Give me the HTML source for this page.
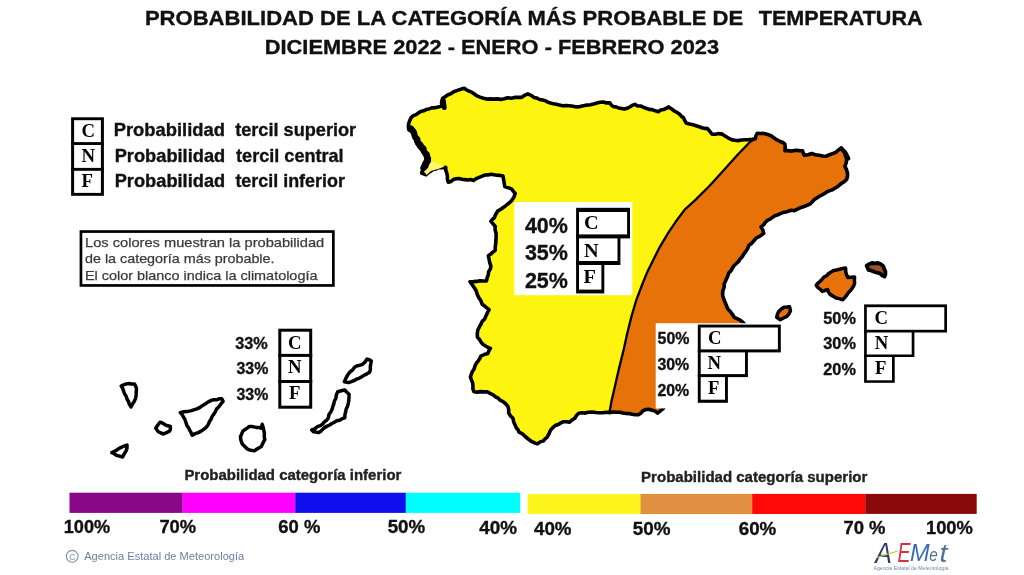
<!DOCTYPE html>
<html lang="es"><head><meta charset="utf-8"><title>Probabilidad de la categoría más probable de temperatura</title>
<style>
html,body{margin:0;padding:0;background:#fff;}
body{width:1024px;height:575px;overflow:hidden;font-family:"Liberation Sans",sans-serif;}
svg{display:block;filter:blur(0.4px);}
.bf{font-family:"Liberation Sans",sans-serif;font-weight:bold;}
.rf{font-family:"Liberation Sans",sans-serif;}
.sf{font-family:"Liberation Serif",serif;font-weight:bold;}
.itf{font-family:"Liberation Sans",sans-serif;font-style:italic;}
</style></head><body>
<svg width="1024" height="575" viewBox="0 0 1024 575">
<rect width="1024" height="575" fill="#fff"/>
<polygon points="408.7,123.5 411.3,117.4 418.3,113.0 426.1,109.6 434.8,107.8 441.7,106.1 442.6,98.3 450.4,93.9 457.4,90.4 464.3,88.3 469.6,91.3 476.5,95.7 483.5,98.3 493.9,99.1 504.3,98.8 514.8,97.4 521.7,97.4 527.8,93.9 533.9,97.4 542.6,100.0 550.4,103.0 562.6,105.7 576.5,106.9 590.4,104.8 600.0,102.2 609.6,102.7 613.0,106.5 624.3,109.1 634.8,104.4 646.1,108.3 658.3,111.7 668.7,106.9 677.4,112.6 683.5,117.8 686.1,123.0 693.0,124.8 699.2,126.7 707.5,128.6 712.1,134.1 722.3,134.1 729.6,138.7 737.9,140.6 749.0,139.6 755.4,138.7 750.5,141.5 737.4,155.0 723.5,170.4 709.6,185.7 695.7,199.6 684.6,209.7 676.3,220.9 667.9,233.4 659.6,247.3 652.6,261.2 647.1,272.4 642.4,284.0 636.3,300.0 631.3,317.0 627.1,334.0 623.6,350.0 618.5,370.6 615.0,386.0 611.5,401.2 609.6,411.5 599.6,412.8 588.5,412.3 578.7,413.3 574.8,418.3 569.6,422.2 563.5,421.7 555.7,425.2 550.4,430.4 547.0,437.4 543.5,440.9 537.4,443.9 531.3,441.3 525.2,436.5 519.1,432.2 515.2,425.2 513.0,418.3 508.7,413.0 507.8,406.1 502.6,401.3 495.7,397.0 487.0,391.7 473.9,391.7 473.0,385.7 470.4,377.0 472.2,371.7 476.5,363.0 480.9,356.1 487.8,353.5 490.4,348.3 483.5,344.8 477.4,337.0 477.8,330.0 481.3,323.5 485.7,316.5 489.1,309.6 482.2,304.3 478.7,297.4 474.3,287.8 470.0,281.7 486.5,280.9 488.3,274.8 490.9,266.1 488.3,255.7 495.2,250.4 496.1,237.0 495.2,226.5 490.9,221.3 494.3,217.8 497.8,210.9 504.8,206.5 511.7,200.4 515.2,193.5 511.7,189.1 504.8,186.5 503.0,176.1 490.9,174.3 482.2,176.1 473.5,180.4 464.8,179.6 456.1,178.7 448.3,182.2 447.4,176.1 445.7,167.4 438.7,167.4 433.0,169.6 426.1,174.8 421.7,173.0 422.6,167.0 426.1,160.0 424.3,153.0 419.1,147.0 415.7,140.9 413.9,133.9 408.7,129.6" fill="#fdf410"/>
<polygon points="755.4,138.7 757.3,133.2 766.5,134.1 773.9,137.8 780.3,141.5 784.9,144.2 784.9,150.7 793.2,150.7 802.5,150.7 804.3,155.3 811.7,153.5 819.1,155.3 826.4,156.2 835.6,152.5 841.2,147.9 844.9,151.6 846.7,159.0 844.9,166.4 847.6,173.7 846.7,179.3 837.5,186.7 826.4,192.2 817.2,197.7 809.8,204.2 796.9,209.4 785.9,212.1 774.8,215.8 767.4,220.4 761.0,226.9 763.7,233.3 756.4,237.9 749.0,245.3 743.5,254.5 736.1,263.7 728.7,273.0 724.1,284.0 722.8,296.0 724.1,300.0 727.8,309.0 734.2,317.3 742.5,321.9 748.0,327.0 750.0,345.0 742.0,362.0 725.0,380.0 700.0,393.0 680.0,398.0 668.0,403.0 663.2,408.6 657.6,413.2 653.0,410.4 645.7,409.5 638.3,414.7 629.1,413.6 619.8,412.2 610.0,412.6 609.6,411.5 611.5,401.2 615.0,386.0 618.5,370.6 623.6,350.0 627.1,334.0 631.3,317.0 636.3,300.0 642.4,284.0 647.1,272.4 652.6,261.2 659.6,247.3 667.9,233.4 676.3,220.9 684.6,209.7 695.7,199.6 709.6,185.7 723.5,170.4 737.4,155.0 750.5,141.5" fill="#e8720a"/>
<polyline points="754.5,139.5 750.5,141.5 737.4,155.0 723.5,170.4 709.6,185.7 695.7,199.6 684.6,209.7 676.3,220.9 667.9,233.4 659.6,247.3 652.6,261.2 647.1,272.4 642.4,284.0 636.3,300.0 631.3,317.0 627.1,334.0 623.6,350.0 618.5,370.6 615.0,386.0 611.5,401.2 609.6,411.5" fill="none" stroke="#000" stroke-width="2.3"/>
<polygon points="408.7,123.5 409.8,120.4 411.3,117.4 413.4,115.6 416.1,114.6 418.3,113.0 420.7,111.4 423.5,110.8 426.1,109.6 429.0,108.9 431.8,107.9 434.8,107.8 438.3,107.0 441.7,106.1 441.6,102.1 442.6,98.3 445.2,96.8 447.6,95.0 450.4,93.9 453.7,91.7 457.4,90.4 460.8,89.3 464.3,88.3 466.8,90.1 469.6,91.3 472.1,92.4 474.4,94.0 476.5,95.7 480.0,97.1 483.5,98.3 486.9,99.1 490.4,98.9 493.9,99.1 497.4,98.9 500.8,99.4 504.3,98.8 507.7,97.8 511.4,98.3 514.8,97.4 518.2,97.2 521.7,97.4 524.6,95.3 527.8,93.9 531.1,95.3 533.9,97.4 536.9,98.1 539.6,99.5 542.6,100.0 545.3,100.7 547.8,102.1 550.4,103.0 553.4,103.8 556.5,104.2 559.5,105.1 562.6,105.7 566.1,105.5 569.6,105.8 573.1,106.3 576.5,106.9 580.0,106.6 583.4,105.8 586.9,105.1 590.4,104.8 593.6,104.0 596.8,103.0 600.0,102.2 603.2,102.1 606.4,102.9 609.6,102.7 611.1,104.7 613.0,106.5 615.9,106.9 618.6,107.9 621.5,108.5 624.3,109.1 627.1,108.3 629.7,107.0 632.1,105.4 634.8,104.4 637.5,105.9 640.6,106.0 643.3,107.2 646.1,108.3 649.1,109.4 652.3,109.6 655.3,110.8 658.3,111.7 660.7,110.0 663.6,109.5 666.2,108.4 668.7,106.9 671.6,108.9 674.3,111.0 677.4,112.6 679.6,114.2 681.3,116.2 683.5,117.8 684.7,120.4 686.1,123.0 689.5,124.0 693.0,124.8 696.1,125.7 699.2,126.7 701.9,127.7 704.6,128.4 707.5,128.6 709.8,131.3 712.1,134.1 715.5,134.3 718.9,133.6 722.3,134.1 724.6,135.8 727.1,137.3 729.6,138.7 732.2,139.9 735.1,140.3 737.9,140.6 741.6,140.0 745.3,139.8 749.0,139.6 752.2,139.3 755.4,138.7 755.9,135.8 757.3,133.2 760.4,133.5 763.5,133.4 766.5,134.1 769.2,135.0 771.7,136.1 773.9,137.8 777.0,139.9 780.3,141.5 782.8,142.5 784.9,144.2 785.2,147.4 784.9,150.7 787.7,150.6 790.4,151.1 793.2,150.7 796.3,150.2 799.4,150.6 802.5,150.7 803.3,153.0 804.3,155.3 808.1,154.8 811.7,153.5 815.3,154.7 819.1,155.3 822.7,156.1 826.4,156.2 829.4,154.7 832.5,153.6 835.6,152.5 838.3,150.1 841.2,147.9 842.8,150.0 844.9,151.6 845.3,155.4 846.7,159.0 846.2,162.8 844.9,166.4 846.6,169.9 847.6,173.7 847.4,176.5 846.7,179.3 844.6,181.4 842.1,183.0 839.7,184.8 837.5,186.7 834.8,188.3 832.2,189.9 829.2,190.9 826.4,192.2 823.4,194.2 820.2,195.8 817.2,197.7 814.4,199.5 812.1,201.9 809.8,204.2 806.6,205.5 803.3,206.7 800.1,207.9 796.9,209.4 794.3,210.6 791.3,210.3 788.6,211.1 785.9,212.1 783.0,212.6 780.2,213.6 777.6,215.0 774.8,215.8 772.4,217.4 770.1,219.2 767.4,220.4 765.2,222.5 763.5,225.1 761.0,226.9 762.8,229.9 763.7,233.3 761.4,235.1 759.0,236.7 756.4,237.9 754.1,240.5 751.8,243.2 749.0,245.3 747.6,248.6 745.7,251.6 743.5,254.5 742.0,257.1 739.9,259.2 738.4,261.7 736.1,263.7 733.9,265.8 732.3,268.3 730.9,270.9 728.7,273.0 727.8,275.9 726.6,278.6 725.4,281.3 724.1,284.0 724.2,287.0 723.1,290.0 722.6,292.9 722.8,296.0 724.1,300.0 725.4,303.0 726.6,306.0 727.8,309.0 730.3,311.5 732.4,314.3 734.2,317.3 737.1,318.7 739.9,320.1 742.5,321.9 745.0,324.7 748.0,327.0 748.7,330.0 749.2,332.9 748.5,336.1 749.3,339.0 750.1,342.0 750.0,345.0 748.6,347.8 747.8,350.9 746.0,353.5 744.2,356.1 743.0,359.0 742.0,362.0 739.7,364.1 737.9,366.7 735.7,368.9 733.8,371.3 731.2,373.0 729.2,375.5 726.9,377.5 725.0,380.0 722.3,381.6 719.6,383.2 716.5,384.0 713.6,385.3 710.9,386.9 708.2,388.4 705.4,389.8 702.7,391.3 700.0,393.0 696.7,394.1 693.3,394.6 690.0,395.7 686.8,396.8 683.5,397.7 680.0,398.0 677.1,399.5 674.1,400.7 670.9,401.6 668.0,403.0 665.2,405.5 663.2,408.6 660.4,410.9 657.6,413.2 655.5,411.4 653.0,410.4 649.4,409.4 645.7,409.5 642.9,410.8 640.9,413.1 638.3,414.7 635.2,414.6 632.1,414.3 629.1,413.6 626.0,413.5 622.9,413.0 619.8,412.2 616.5,412.2 613.2,412.0 610.0,412.6 606.5,412.3 603.1,412.8 599.6,412.8 595.9,412.5 592.2,412.1 588.5,412.3 585.3,413.1 581.9,412.8 578.7,413.3 576.4,415.5 574.8,418.3 572.0,420.0 569.6,422.2 566.6,421.7 563.5,421.7 560.9,422.9 558.4,424.4 555.7,425.2 552.8,427.6 550.4,430.4 548.9,434.0 547.0,437.4 545.0,438.9 543.5,440.9 540.2,441.9 537.4,443.9 534.3,442.7 531.3,441.3 528.2,439.0 525.2,436.5 522.4,433.9 519.1,432.2 518.0,429.7 516.2,427.7 515.2,425.2 513.7,421.9 513.0,418.3 510.6,415.9 508.7,413.0 508.7,409.5 507.8,406.1 505.4,403.5 502.6,401.3 500.1,400.2 498.2,398.1 495.7,397.0 493.1,394.8 490.0,393.3 487.0,391.7 483.7,391.9 480.4,391.6 477.2,392.1 473.9,391.7 472.9,388.8 473.0,385.7 472.6,382.7 471.4,379.9 470.4,377.0 471.3,374.4 472.2,371.7 474.1,369.0 475.0,365.9 476.5,363.0 478.3,360.9 479.7,358.6 480.9,356.1 484.2,354.5 487.8,353.5 488.9,350.8 490.4,348.3 486.8,346.8 483.5,344.8 481.2,342.4 479.5,339.5 477.4,337.0 477.3,333.5 477.8,330.0 479.5,326.7 481.3,323.5 482.4,321.0 484.6,319.1 485.7,316.5 487.3,313.0 489.1,309.6 486.8,307.9 484.6,306.0 482.2,304.3 480.8,300.6 478.7,297.4 477.2,294.2 476.2,290.8 474.3,287.8 472.2,284.7 470.0,281.7 473.3,281.6 476.6,281.4 479.9,280.7 483.2,281.0 486.5,280.9 487.1,277.8 488.3,274.8 488.6,271.7 490.3,269.1 490.9,266.1 489.7,262.7 489.1,259.2 488.3,255.7 490.8,254.1 492.9,252.2 495.2,250.4 495.2,247.0 495.7,243.7 495.9,240.4 496.1,237.0 496.1,233.5 495.1,230.0 495.2,226.5 493.1,223.9 490.9,221.3 492.4,219.4 494.3,217.8 495.8,214.2 497.8,210.9 500.3,209.7 502.5,208.0 504.8,206.5 507.1,204.5 509.6,202.6 511.7,200.4 513.9,197.2 515.2,193.5 513.4,191.3 511.7,189.1 508.3,187.7 504.8,186.5 504.2,183.0 503.6,179.6 503.0,176.1 500.0,175.4 496.9,175.3 493.9,174.7 490.9,174.3 488.0,174.9 485.0,175.0 482.2,176.1 479.2,177.3 476.2,178.6 473.5,180.4 470.6,179.6 467.7,180.1 464.8,179.6 461.9,179.2 459.1,178.5 456.1,178.7 453.3,179.5 451.1,181.4 448.3,182.2 447.4,179.2 447.4,176.1 446.8,173.2 445.8,170.4 445.7,167.4 442.2,167.7 438.7,167.4 436.0,168.9 433.0,169.6 430.6,171.2 428.2,172.8 426.1,174.8 421.7,173.0 422.6,170.1 422.6,167.0 424.0,163.3 426.1,160.0 425.4,156.4 424.3,153.0 421.8,149.9 419.1,147.0 417.1,144.1 415.7,140.9 415.2,137.3 413.9,133.9 411.6,131.4 408.7,129.6 408.4,126.5" fill="none" stroke="#000" stroke-width="3.6" stroke-linejoin="round"/>
<polygon points="424.5,171.5 427.0,165.5 432.0,161.5 441.0,164.5 444.5,166.5 438.0,169.0 431.0,171.0 426.5,175.0" fill="#fdf76e"/>
<polyline points="411.0,128.5 412.4,130.5 413.9,132.5 414.5,135.0 415.3,137.3 417.2,139.0 417.5,141.5 418.8,143.4 420.4,145.0 421.5,147.0 423.4,148.6 423.8,151.0 425.0,153.0 426.7,154.4 427.1,156.6 428.0,158.5 427.7,161.3 426.0,163.5 425.4,166.1 423.5,168.0" fill="none" stroke="#000" stroke-width="6.3" stroke-linejoin="round" stroke-linecap="round"/>
<polyline points="444.2,107.5 443.3,100.5" fill="none" stroke="#000" stroke-width="5" stroke-linecap="round"/>
<polyline points="841.2,148.5 845.5,153.0 848.3,158.5" fill="none" stroke="#000" stroke-width="4.2" stroke-linecap="round"/>
<polygon points="816.2,285.4 817.9,283.1 820.2,281.3 822.2,279.2 824.0,277.0 826.6,275.7 828.7,273.5 831.1,271.9 833.6,270.4 836.6,270.0 839.6,269.3 842.6,268.4 845.6,268.0 845.7,271.0 846.2,274.0 848.0,277.6 851.3,277.2 854.6,277.0 854.4,280.3 854.6,283.6 853.5,286.2 852.0,288.5 850.4,290.8 848.2,292.8 846.6,295.4 844.7,297.7 842.6,299.8 839.4,298.6 836.0,298.0 833.1,296.1 830.0,294.4 828.5,292.1 827.6,289.6 824.9,290.5 822.2,291.4 820.3,289.3 818.0,287.6" fill="#e8720a" stroke="#000" stroke-width="3.5" stroke-linejoin="round"/>
<polygon points="776.7,317.3 777.4,314.5 778.5,311.8 781.0,309.3 784.0,307.2 786.8,307.1 789.6,306.8 790.5,310.8 789.0,313.8 786.8,316.4 783.5,318.0 780.3,319.7" fill="#e8720a" stroke="#000" stroke-width="3.5" stroke-linejoin="round"/>
<polygon points="866.6,265.6 869.2,264.1 872.0,263.0 875.0,263.4 878.0,263.0 880.9,264.3 883.4,266.2 884.2,269.0 885.4,271.6 885.4,274.2 884.6,276.6 882.3,275.5 880.4,273.7 878.0,272.8 874.7,272.0 871.6,270.7 868.4,269.8 867.5,267.7" fill="#9a5226" stroke="#000" stroke-width="3.8" stroke-linejoin="round"/>
<polygon points="121.2,386.0 123.6,384.8 126.1,383.9 128.9,383.6 131.6,384.0 134.4,383.9 135.8,386.4 136.5,389.1 136.2,392.0 136.1,394.9 135.7,397.8 134.5,401.0 132.6,403.9 131.0,406.9 129.4,404.4 128.5,401.5 127.0,399.0 126.1,396.1 124.5,393.7 123.6,391.1 122.7,388.4" fill="#fff" stroke="#000" stroke-width="3.5" stroke-linejoin="round"/>
<polygon points="111.8,452.6 114.4,451.4 116.8,450.0 119.1,448.3 121.7,447.2 124.3,446.0 127.0,445.1 127.0,448.1 126.1,450.9 124.2,453.9 122.6,457.0 119.5,456.1 116.5,455.2 114.3,453.7" fill="#fff" stroke="#000" stroke-width="3.5" stroke-linejoin="round"/>
<polygon points="155.7,428.3 157.7,425.2 160.0,422.2 162.7,423.2 165.2,424.8 167.8,425.8 170.4,426.5 170.4,428.9 169.6,431.2 166.5,432.6 163.5,434.0 160.9,433.0 158.3,431.7" fill="#fff" stroke="#000" stroke-width="3.5" stroke-linejoin="round"/>
<polygon points="180.3,412.6 183.6,411.8 187.1,411.6 190.4,410.9 193.7,409.9 196.9,408.9 200.0,407.4 202.7,405.4 205.5,403.7 208.3,401.9 211.3,400.4 213.9,399.7 216.5,399.8 219.0,398.8 221.7,398.7 223.1,401.3 220.9,403.9 218.9,406.7 216.5,409.1 215.4,411.6 214.0,413.9 212.3,416.2 211.3,418.7 209.5,421.5 208.2,424.7 206.1,427.4 203.6,429.3 201.1,431.1 198.3,432.6 195.1,433.6 192.2,435.2 191.1,432.7 189.8,430.3 188.6,427.9 187.0,425.7 186.0,422.7 185.0,419.7 183.5,417.0 182.1,414.6" fill="#fff" stroke="#000" stroke-width="3.5" stroke-linejoin="round"/>
<polygon points="240.4,437.0 241.7,433.9 243.0,430.9 245.1,429.5 247.2,428.1 249.1,426.5 252.6,426.6 256.1,427.4 258.8,427.4 261.3,428.3 262.2,424.3 263.2,427.6 263.9,430.9 264.4,433.8 264.2,436.7 264.8,439.6 263.5,441.8 262.4,444.2 261.3,446.5 258.9,447.9 256.6,449.3 254.3,450.9 250.8,450.3 247.4,449.1 244.8,446.5 242.2,443.9 241.0,440.5" fill="#fff" stroke="#000" stroke-width="3.5" stroke-linejoin="round"/>
<polygon points="311.7,430.0 314.8,428.9 317.3,426.7 320.4,425.7 322.6,424.1 324.3,421.9 326.5,420.4 328.4,417.7 329.0,414.4 330.9,411.7 332.1,409.2 332.8,406.6 333.8,404.0 334.3,401.3 335.9,398.3 336.4,394.8 337.8,391.7 341.3,390.7 344.8,390.0 346.8,392.3 349.1,394.3 349.0,397.2 348.8,400.1 348.3,403.0 347.7,406.0 346.3,408.7 345.7,411.7 344.9,414.7 344.8,417.8 342.1,418.7 339.6,420.2 336.8,420.7 334.3,422.2 331.9,423.5 329.7,425.0 327.2,426.1 324.8,427.4 322.8,429.2 321.0,431.2 318.7,432.6 316.1,432.1 313.5,431.7" fill="#fff" stroke="#000" stroke-width="3.5" stroke-linejoin="round"/>
<polygon points="344.3,381.7 345.4,379.4 346.5,377.0 347.8,374.8 349.9,372.0 352.7,369.8 354.8,367.0 357.3,365.7 360.0,365.2 362.6,364.3 365.1,361.9 367.0,359.1 369.3,359.7 371.3,360.9 370.8,363.7 370.3,366.5 370.4,369.4 369.6,372.2 367.0,373.8 364.3,375.1 361.7,376.8 359.1,378.3 356.4,379.2 354.0,380.7 351.4,381.7 348.7,382.6" fill="#fff" stroke="#000" stroke-width="3.5" stroke-linejoin="round"/>
<rect x="514.3" y="202" width="118.00" height="93.20" fill="#fff"/>
<rect x="576.1" y="207.8" width="53.90" height="30.60" fill="#000"/>
<rect x="576.1" y="234.4" width="44.30" height="30.60" fill="#000"/>
<rect x="576.1" y="261" width="28.20" height="32.40" fill="#000"/>
<rect x="579.00" y="212.0" width="48.10" height="22.40" fill="#fff"/>
<rect x="579.00" y="238.4" width="38.50" height="22.60" fill="#fff"/>
<rect x="579.00" y="265" width="22.40" height="24.60" fill="#fff"/>
<text x="584.00" y="229.4" class="sf" font-size="19.5" textLength="14.65" lengthAdjust="spacingAndGlyphs" xml:space="preserve">C</text>
<text x="584.00" y="256.5" class="sf" font-size="19.5" textLength="14.65" lengthAdjust="spacingAndGlyphs" xml:space="preserve">N</text>
<text x="583.61" y="282.6" class="sf" font-size="19.5" textLength="12.39" lengthAdjust="spacingAndGlyphs" xml:space="preserve">F</text>
<text x="524.90" y="232.5" class="bf" font-size="22.2" textLength="43.03" lengthAdjust="spacingAndGlyphs" fill="#111" stroke="#111" stroke-width="0.35" xml:space="preserve">40%</text>
<text x="524.90" y="259.9" class="bf" font-size="22.2" textLength="43.03" lengthAdjust="spacingAndGlyphs" fill="#111" stroke="#111" stroke-width="0.35" xml:space="preserve">35%</text>
<text x="524.90" y="287.6" class="bf" font-size="22.2" textLength="43.03" lengthAdjust="spacingAndGlyphs" fill="#111" stroke="#111" stroke-width="0.35" xml:space="preserve">25%</text>
<rect x="655.7" y="323.2" width="144.30" height="85.20" fill="#fff"/>
<rect x="697.8" y="324.6" width="83.00" height="27.80" fill="#000"/>
<rect x="697.8" y="349.4" width="50.10" height="27.70" fill="#000"/>
<rect x="697.8" y="374.1" width="30.10" height="28.70" fill="#000"/>
<rect x="700.70" y="327.5" width="77.20" height="21.90" fill="#fff"/>
<rect x="700.70" y="352.4" width="44.30" height="21.70" fill="#fff"/>
<rect x="700.70" y="377.1" width="24.30" height="22.60" fill="#fff"/>
<text x="707.91" y="343.5" class="sf" font-size="18" textLength="13.52" lengthAdjust="spacingAndGlyphs" xml:space="preserve">C</text>
<text x="707.41" y="368.9" class="sf" font-size="18" textLength="13.52" lengthAdjust="spacingAndGlyphs" xml:space="preserve">N</text>
<text x="708.14" y="393.5" class="sf" font-size="18" textLength="11.44" lengthAdjust="spacingAndGlyphs" xml:space="preserve">F</text>
<text x="657.60" y="344.4" class="bf" font-size="15.8" textLength="31.92" lengthAdjust="spacingAndGlyphs" fill="#111" stroke="#111" stroke-width="0.35" xml:space="preserve">50%</text>
<text x="657.40" y="369.6" class="bf" font-size="15.8" textLength="31.82" lengthAdjust="spacingAndGlyphs" fill="#111" stroke="#111" stroke-width="0.35" xml:space="preserve">30%</text>
<text x="657.40" y="395.8" class="bf" font-size="15.8" textLength="31.82" lengthAdjust="spacingAndGlyphs" fill="#111" stroke="#111" stroke-width="0.35" xml:space="preserve">20%</text>
<rect x="864.1" y="304.4" width="82.90" height="28.10" fill="#000"/>
<rect x="864.1" y="329.8" width="50.30" height="27.20" fill="#000"/>
<rect x="864.1" y="354.5" width="30.60" height="28.30" fill="#000"/>
<rect x="866.80" y="307.2" width="77.50" height="22.60" fill="#fff"/>
<rect x="866.80" y="332.5" width="44.90" height="22.00" fill="#fff"/>
<rect x="866.80" y="357" width="25.20" height="23.30" fill="#fff"/>
<text x="874.56" y="324.2" class="sf" font-size="18" textLength="13.52" lengthAdjust="spacingAndGlyphs" xml:space="preserve">C</text>
<text x="874.66" y="349.3" class="sf" font-size="18" textLength="13.52" lengthAdjust="spacingAndGlyphs" xml:space="preserve">N</text>
<text x="874.94" y="374.2" class="sf" font-size="18" textLength="11.44" lengthAdjust="spacingAndGlyphs" xml:space="preserve">F</text>
<text x="823.30" y="324.4" class="bf" font-size="15.8" textLength="32.62" lengthAdjust="spacingAndGlyphs" fill="#111" stroke="#111" stroke-width="0.35" xml:space="preserve">50%</text>
<text x="823.30" y="349.3" class="bf" font-size="15.8" textLength="32.62" lengthAdjust="spacingAndGlyphs" fill="#111" stroke="#111" stroke-width="0.35" xml:space="preserve">30%</text>
<text x="823.30" y="374.6" class="bf" font-size="15.8" textLength="32.62" lengthAdjust="spacingAndGlyphs" fill="#111" stroke="#111" stroke-width="0.35" xml:space="preserve">20%</text>
<rect x="278.3" y="328.7" width="33.90" height="28.20" fill="#000"/>
<rect x="278.3" y="353.9" width="33.90" height="29.10" fill="#000"/>
<rect x="278.3" y="380" width="33.90" height="28.70" fill="#000"/>
<rect x="281.30" y="331.7" width="27.90" height="22.20" fill="#fff"/>
<rect x="281.30" y="356.9" width="27.90" height="23.10" fill="#fff"/>
<rect x="281.30" y="383" width="27.90" height="22.70" fill="#fff"/>
<text x="288.06" y="348.5" class="sf" font-size="18" textLength="13.52" lengthAdjust="spacingAndGlyphs" xml:space="preserve">C</text>
<text x="288.11" y="373" class="sf" font-size="18" textLength="13.52" lengthAdjust="spacingAndGlyphs" xml:space="preserve">N</text>
<text x="288.94" y="399.1" class="sf" font-size="18" textLength="11.44" lengthAdjust="spacingAndGlyphs" xml:space="preserve">F</text>
<text x="235.30" y="348.7" class="bf" font-size="15.8" textLength="32.52" lengthAdjust="spacingAndGlyphs" fill="#111" stroke="#111" stroke-width="0.35" xml:space="preserve">33%</text>
<text x="236.50" y="373.5" class="bf" font-size="15.8" textLength="31.82" lengthAdjust="spacingAndGlyphs" fill="#111" stroke="#111" stroke-width="0.35" xml:space="preserve">33%</text>
<text x="236.50" y="399.8" class="bf" font-size="15.8" textLength="31.82" lengthAdjust="spacingAndGlyphs" fill="#111" stroke="#111" stroke-width="0.35" xml:space="preserve">33%</text>
<rect x="71.1" y="117.3" width="32.80" height="27.70" fill="#000"/>
<rect x="71.1" y="142.1" width="32.80" height="28.70" fill="#000"/>
<rect x="71.1" y="167.9" width="32.80" height="27.90" fill="#000"/>
<rect x="74.10" y="120.2" width="26.80" height="21.90" fill="#fff"/>
<rect x="74.10" y="145" width="26.80" height="22.90" fill="#fff"/>
<rect x="74.10" y="170.8" width="26.80" height="22.10" fill="#fff"/>
<text x="81.61" y="137" class="sf" font-size="18" textLength="13.52" lengthAdjust="spacingAndGlyphs" xml:space="preserve">C</text>
<text x="81.56" y="162" class="sf" font-size="18" textLength="13.52" lengthAdjust="spacingAndGlyphs" xml:space="preserve">N</text>
<text x="81.64" y="187" class="sf" font-size="18" textLength="11.44" lengthAdjust="spacingAndGlyphs" xml:space="preserve">F</text>
<text x="113.70" y="136.25" class="bf" font-size="17.7" textLength="111.32" lengthAdjust="spacingAndGlyphs" fill="#111" stroke="#111" stroke-width="0.35" xml:space="preserve">Probabilidad</text>
<text x="235.20" y="136.25" class="bf" font-size="17.7" textLength="120.98" lengthAdjust="spacingAndGlyphs" fill="#111" stroke="#111" stroke-width="0.35" xml:space="preserve">tercil superior</text>
<text x="114.70" y="161.6" class="bf" font-size="17.7" textLength="110.52" lengthAdjust="spacingAndGlyphs" fill="#111" stroke="#111" stroke-width="0.35" xml:space="preserve">Probabilidad</text>
<text x="236.10" y="161.6" class="bf" font-size="17.7" textLength="107.54" lengthAdjust="spacingAndGlyphs" fill="#111" stroke="#111" stroke-width="0.35" xml:space="preserve">tercil central</text>
<text x="114.70" y="187" class="bf" font-size="17.7" textLength="110.52" lengthAdjust="spacingAndGlyphs" fill="#111" stroke="#111" stroke-width="0.35" xml:space="preserve">Probabilidad</text>
<text x="235.40" y="187" class="bf" font-size="17.7" textLength="109.46" lengthAdjust="spacingAndGlyphs" fill="#111" stroke="#111" stroke-width="0.35" xml:space="preserve">tercil inferior</text>
<rect x="80.95" y="231.55" width="252.4" height="53.9" fill="#fff" stroke="#000" stroke-width="2.7"/>
<text x="85.00" y="246.6" class="rf" font-size="13.4" textLength="239.27" lengthAdjust="spacingAndGlyphs" fill="#3a3a3a" stroke="#3a3a3a" stroke-width="0.25" xml:space="preserve">Los colores muestran la probabilidad</text>
<text x="85.00" y="263.2" class="rf" font-size="13.4" textLength="189.51" lengthAdjust="spacingAndGlyphs" fill="#3a3a3a" stroke="#3a3a3a" stroke-width="0.25" xml:space="preserve">de la categoría más probable.</text>
<text x="85.00" y="280.3" class="rf" font-size="13.4" textLength="232.43" lengthAdjust="spacingAndGlyphs" fill="#3a3a3a" stroke="#3a3a3a" stroke-width="0.25" xml:space="preserve">El color blanco indica la climatología</text>
<text x="144.90" y="25" class="bf" font-size="20.3" textLength="598.21" lengthAdjust="spacingAndGlyphs" fill="#111" stroke="#111" stroke-width="0.35" xml:space="preserve">PROBABILIDAD DE LA CATEGORÍA MÁS PROBABLE DE</text>
<text x="758.70" y="25" class="bf" font-size="20.3" textLength="163.95" lengthAdjust="spacingAndGlyphs" fill="#111" stroke="#111" stroke-width="0.35" xml:space="preserve">TEMPERATURA</text>
<text x="264.80" y="53.8" class="bf" font-size="20.3" textLength="454.29" lengthAdjust="spacingAndGlyphs" fill="#111" stroke="#111" stroke-width="0.35" xml:space="preserve">DICIEMBRE 2022 - ENERO - FEBRERO 2023</text>
<rect x="69.5" y="492.7" width="113.20" height="20.20" fill="#880888"/>
<rect x="182.4" y="492.7" width="113.20" height="20.20" fill="#ff00ff"/>
<rect x="295.3" y="492.7" width="110.70" height="20.20" fill="#1010ee"/>
<rect x="405.7" y="492.7" width="114.50" height="20.20" fill="#00ffff"/>
<rect x="527.7" y="493.9" width="113.10" height="20.20" fill="#fdf51c"/>
<rect x="640.5" y="493.9" width="112.00" height="20.20" fill="#e09040"/>
<rect x="752.2" y="493.9" width="113.50" height="20.10" fill="#ff0808"/>
<rect x="865.4" y="493.9" width="111.30" height="20.00" fill="#8a0a0c"/>
<text x="63.70" y="533" class="bf" font-size="18.5" textLength="46.46" lengthAdjust="spacingAndGlyphs" fill="#111" stroke="#111" stroke-width="0.35" xml:space="preserve">100%</text>
<text x="159.40" y="533" class="bf" font-size="18.5" textLength="36.73" lengthAdjust="spacingAndGlyphs" fill="#111" stroke="#111" stroke-width="0.35" xml:space="preserve">70%</text>
<text x="278.30" y="533.2" class="bf" font-size="18.5" textLength="41.99" lengthAdjust="spacingAndGlyphs" fill="#111" stroke="#111" stroke-width="0.35" xml:space="preserve">60 %</text>
<text x="387.70" y="533.2" class="bf" font-size="18.5" textLength="37.53" lengthAdjust="spacingAndGlyphs" fill="#111" stroke="#111" stroke-width="0.35" xml:space="preserve">50%</text>
<text x="479.30" y="534.3" class="bf" font-size="18.5" textLength="37.73" lengthAdjust="spacingAndGlyphs" fill="#111" stroke="#111" stroke-width="0.35" xml:space="preserve">40%</text>
<text x="534.00" y="534.9" class="bf" font-size="18.5" textLength="37.53" lengthAdjust="spacingAndGlyphs" fill="#111" stroke="#111" stroke-width="0.35" xml:space="preserve">40%</text>
<text x="632.70" y="534.9" class="bf" font-size="18.5" textLength="37.73" lengthAdjust="spacingAndGlyphs" fill="#111" stroke="#111" stroke-width="0.35" xml:space="preserve">50%</text>
<text x="738.75" y="534.9" class="bf" font-size="18.5" textLength="37.53" lengthAdjust="spacingAndGlyphs" fill="#111" stroke="#111" stroke-width="0.35" xml:space="preserve">60%</text>
<text x="843.40" y="533.9" class="bf" font-size="18.5" textLength="42.09" lengthAdjust="spacingAndGlyphs" fill="#111" stroke="#111" stroke-width="0.35" xml:space="preserve">70 %</text>
<text x="926.00" y="533.9" class="bf" font-size="18.5" textLength="46.86" lengthAdjust="spacingAndGlyphs" fill="#111" stroke="#111" stroke-width="0.35" xml:space="preserve">100%</text>
<text x="184.40" y="480.4" class="bf" font-size="14.3" textLength="216.97" lengthAdjust="spacingAndGlyphs" fill="#222" stroke="#222" stroke-width="0.35" xml:space="preserve">Probabilidad categoría inferior</text>
<text x="641.10" y="481.6" class="bf" font-size="14.3" textLength="226.29" lengthAdjust="spacingAndGlyphs" fill="#222" stroke="#222" stroke-width="0.35" xml:space="preserve">Probabilidad categoría superior</text>
<circle cx="72.2" cy="556.3" r="5.9" fill="none" stroke="#7a93b5" stroke-width="1.1"/>
<text x="69.20" y="559.6" class="rf" font-size="9" textLength="6.42" lengthAdjust="spacingAndGlyphs" fill="#7a93b5" xml:space="preserve">C</text>
<text x="84.20" y="560.2" class="rf" font-size="11.3" textLength="160.03" lengthAdjust="spacingAndGlyphs" fill="#6a82a6" xml:space="preserve">Agencia Estatal de Meteorología</text>
<text class="itf"><tspan x="875.34" y="563" font-size="29" textLength="16.61" lengthAdjust="spacingAndGlyphs" fill="#2b3c6b">A</tspan><tspan x="897.60" y="562.4" font-size="27.5" textLength="13.05" lengthAdjust="spacingAndGlyphs" fill="#d2343c">E</tspan><tspan x="909.90" y="561.3" font-size="24" textLength="19.65" lengthAdjust="spacingAndGlyphs" fill="#3d6db0">M</tspan><tspan x="929.30" y="561.3" font-size="18.5" textLength="8.52" lengthAdjust="spacingAndGlyphs" fill="#4f7496">e</tspan><tspan x="939.50" y="562" font-size="25" textLength="7.94" lengthAdjust="spacingAndGlyphs" fill="#4f7496">t</tspan></text>
<line x1="877.5" y1="557.4" x2="897" y2="551.2" stroke="#c4c63e" stroke-width="1.2" stroke-linecap="round"/>
<text x="873.5" y="569.6" class="rf" font-size="4.6" fill="#7a86a8" textLength="75" lengthAdjust="spacingAndGlyphs">Agencia Estatal de Meteorología</text>
</svg>
</body></html>
